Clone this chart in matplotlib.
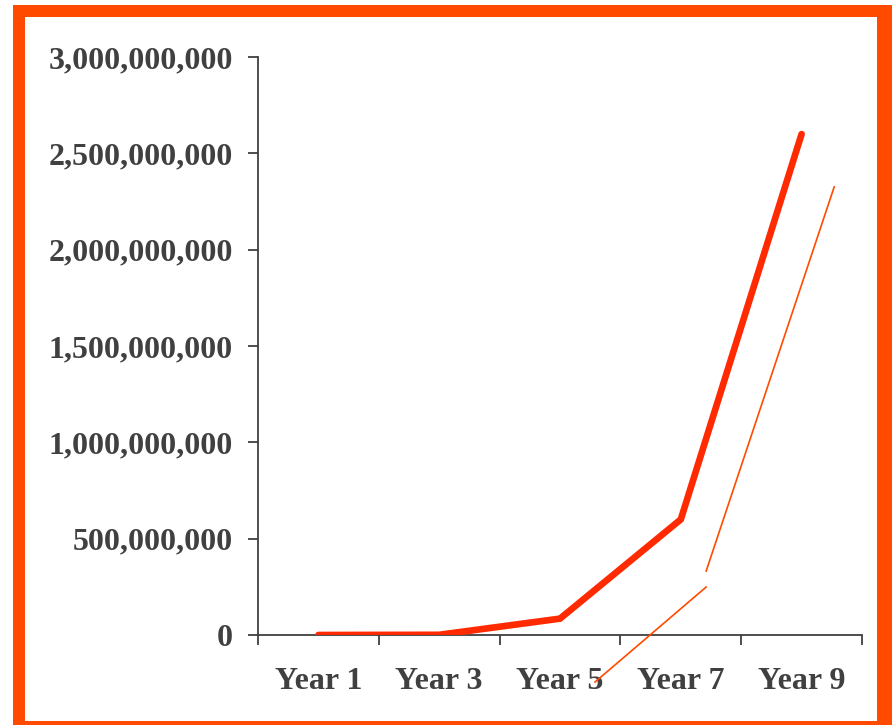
import numpy as np
import matplotlib.pyplot as plt
from matplotlib.patches import Rectangle
from matplotlib.ticker import FuncFormatter

years = ["Year 1", "Year 3", "Year 5", "Year 7", "Year 9"]
values = [0, 1e6, 85e6, 600e6, 2.6e9]

# thin decorative orange strokes (category index, value)
stroke1_x = [2.29, 3.21]
stroke1_y = [-2.44e8, 2.49e8]
stroke2_x = [3.21, 4.27]
stroke2_y = [3.32e8, 2.326e9]

grey = "#404040"
red = "#FF2A00"
orange = "#FF4A00"

plt.rcParams['font.family'] = ['Liberation Serif', 'DejaVu Serif']

W, H = 892, 725
fig = plt.figure(figsize=(W / 100, H / 100), dpi=100)

# orange frame, in pixel units
for (x0, y0, w, h) in [(13, 0, 12, 720), (13, 708, 879, 12), (877, 0, 15, 720), (13, 0, 879, 4)]:
    fig.patches.append(Rectangle((x0 / W, y0 / H), w / W, h / H, transform=fig.transFigure,
                                 facecolor=orange, edgecolor="none", zorder=0))

ax = fig.add_axes([258 / W, 1 - 635 / H, (862 - 258) / W, (635 - 57) / H])
x = np.arange(len(years))
ax.plot(x, values, color=red, lw=4.8, solid_capstyle="round", solid_joinstyle="miter", zorder=3)
ax.plot(stroke1_x, stroke1_y, color=orange, lw=1.2, clip_on=False, zorder=4)
ax.plot(stroke2_x, stroke2_y, color=orange, lw=1.2, clip_on=False, zorder=4)

ax.set_xlim(-0.5, 4.5)
ax.set_ylim(0, 3e9)
ax.set_yticks(np.arange(0, 3.01e9, 5e8))
ax.yaxis.set_major_formatter(FuncFormatter(lambda v, p: f"{int(round(v)):,}"))
ax.set_xticks(np.arange(-0.5, 4.6, 1))
ax.set_xticklabels([])
ax.set_xticks(x, minor=True)
ax.set_xticklabels(years, minor=True)

for s in ["top", "right"]:
    ax.spines[s].set_visible(False)
for s in ["left", "bottom"]:
    ax.spines[s].set_color(grey)
    ax.spines[s].set_linewidth(1.3)

ax.tick_params(axis="y", which="major", direction="out", length=7.2, width=1.3, color=grey,
               pad=11, labelsize=23, labelcolor=grey)
ax.tick_params(axis="x", which="major", direction="out", length=7.2, width=1.3, color=grey)
ax.tick_params(axis="x", which="minor", length=0, pad=23, labelsize=23, labelcolor=grey)
for lab in ax.get_yticklabels() + ax.get_xticklabels(minor=True):
    lab.set_fontweight("bold")

fig.savefig("out.png", dpi=100, facecolor="white")
